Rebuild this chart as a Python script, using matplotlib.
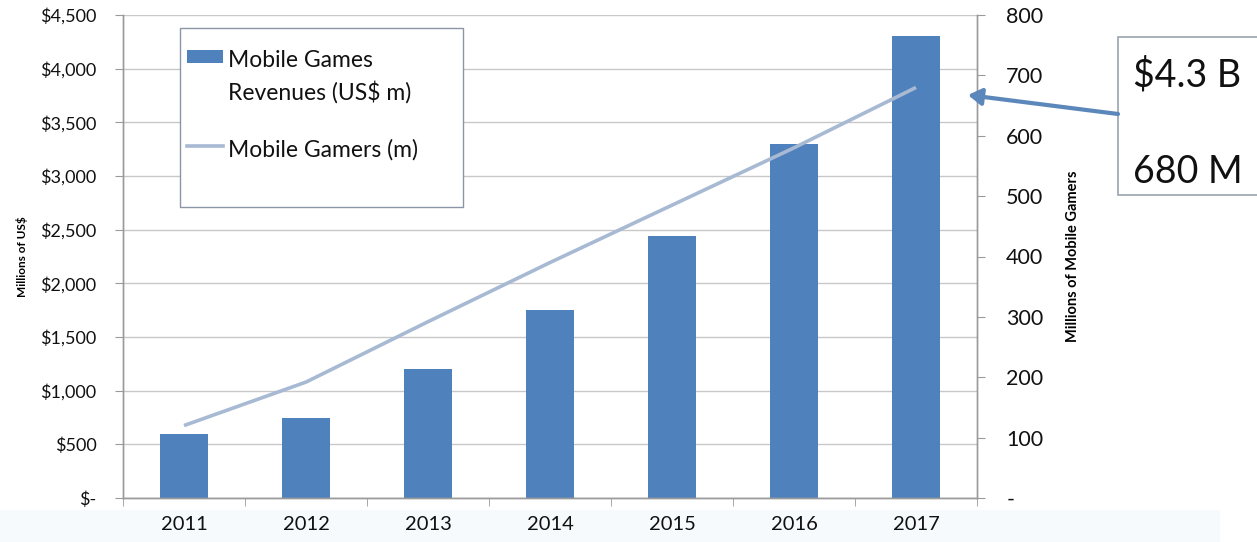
import numpy as np
import matplotlib.pyplot as plt
from matplotlib.patches import Rectangle
from matplotlib.lines import Line2D

plt.rcParams['font.family'] = ['Lato', 'DejaVu Sans']

years = ['2011', '2012', '2013', '2014', '2015', '2016', '2017']
revenues = [600, 750, 1200, 1750, 2440, 3300, 4300]      # US$ m
gamers = [120, 192, 292, 390, 485, 580, 680]             # millions

left_ticks = [0, 500, 1000, 1500, 2000, 2500, 3000, 3500, 4000, 4500]
left_labels = ['$-', '$500', '$1,000', '$1,500', '$2,000', '$2,500',
               '$3,000', '$3,500', '$4,000', '$4,500']
right_ticks = [0, 100, 200, 300, 400, 500, 600, 700, 800]
right_labels = ['-', '100', '200', '300', '400', '500', '600', '700', '800']

BAR_COLOR = '#4F81BD'
LINE_COLOR = '#A7B9D3'
GRID_COLOR = '#C8C8C8'
AXIS_COLOR = '#9A9A9A'
TEXT_COLOR = '#111111'

W, H = 1257, 542


def px(x, y):
    # pixel position (from top-left) -> figure fraction
    return x / W, 1 - y / H


fig = plt.figure(figsize=(W / 100, H / 100), dpi=100)

# faint tint behind the category labels
fig.patches.append(Rectangle(px(0, H), 1220 / W, 32 / H, transform=fig.transFigure,
                             facecolor='#F6FAFD', edgecolor='none', zorder=-1))

ax = fig.add_axes([123 / W, 44 / H, 854 / W, 483 / H])
ax.patch.set_alpha(0)
ax2 = ax.twinx()

x = np.arange(len(years))
ax.bar(x, revenues, width=0.39, color=BAR_COLOR, zorder=2)
ax2.plot(x, gamers, color=LINE_COLOR, linewidth=2.6, solid_capstyle='butt', zorder=3)

ax.set_xlim(-0.5, len(years) - 0.5)
ax.set_ylim(0, 4500)
ax2.set_ylim(0, 800)

ax.set_yticks(left_ticks)
ax.set_yticklabels(left_labels, fontsize=13, color=TEXT_COLOR)
ax2.set_yticks(right_ticks)
ax2.set_yticklabels(right_labels, fontsize=15.5, color=TEXT_COLOR)

# category labels centred, tick marks between categories
ax.set_xticks(x)
ax.set_xticklabels(years, fontsize=14.5, color=TEXT_COLOR)
ax.tick_params(axis='x', length=0, pad=13)
ax.set_xticks(np.arange(-0.5, len(years)), minor=True)
ax.tick_params(axis='x', which='minor', length=6, color=AXIS_COLOR, direction='out')

ax.tick_params(axis='y', length=6, color=AXIS_COLOR, pad=13)
ax2.tick_params(axis='y', length=6, color=AXIS_COLOR, pad=15)

ax.grid(axis='y', color=GRID_COLOR, linewidth=1.0, zorder=0)
ax.set_axisbelow(True)

for a in (ax, ax2):
    a.spines['top'].set_visible(False)
    for side in ('left', 'right', 'bottom'):
        a.spines[side].set_color(AXIS_COLOR)
        a.spines[side].set_linewidth(1.0)

ax.set_ylabel('Millions of US$', fontsize=8.5, fontweight='bold', labelpad=9)
ax2.set_ylabel('Millions of Mobile Gamers', fontsize=10.5, fontweight='bold', labelpad=16)

# legend box, handles aligned with the first line of each entry
fig.patches.append(Rectangle(px(180, 207), 283 / W, 179 / H, transform=fig.transFigure,
                             facecolor='white', edgecolor='#8A96A6', linewidth=1.0, zorder=5))
fig.patches.append(Rectangle(px(187, 63), 36 / W, 13 / H, transform=fig.transFigure,
                             facecolor=BAR_COLOR, edgecolor='none', zorder=6))
fig.lines.append(Line2D([187 / W, 223 / W], [1 - 146 / H] * 2, transform=fig.transFigure,
                        color=LINE_COLOR, linewidth=2.6, zorder=6))
for label, base in [('Mobile Games', 67), ('Revenues (US$ m)', 100), ('Mobile Gamers (m)', 157)]:
    fig.text(*px(228, base), label, fontsize=16.5, va='baseline', ha='left',
             color=TEXT_COLOR, zorder=7)

# call-out box for the 2017 figures
fig.patches.append(Rectangle(px(1118, 195), 0.2, 158 / H, transform=fig.transFigure,
                             facecolor='white', edgecolor='#9AA3AE', linewidth=1.2))
fig.text(*px(1133, 75), f'${revenues[-1] / 1000:.1f} B',
         fontsize=27, va='center', ha='left', color=TEXT_COLOR)
fig.text(*px(1133, 172), f'{gamers[-1]} M',
         fontsize=27, va='center', ha='left', color=TEXT_COLOR)
fig.add_artist(plt.Annotation('', xy=px(968, 95), xycoords='figure fraction',
                              xytext=px(1118, 114), textcoords='figure fraction',
                              arrowprops=dict(arrowstyle='-|>,head_length=0.8,head_width=0.5',
                                              color='#5B87BA', linewidth=3,
                                              shrinkA=0, shrinkB=0)))

fig.savefig('out.png', dpi=100)
